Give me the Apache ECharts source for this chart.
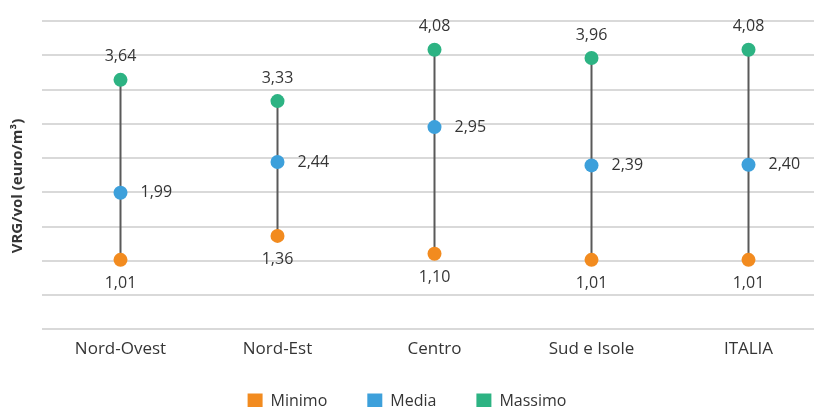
<!DOCTYPE html>
<html>
<head>
<meta charset="utf-8">
<script src="https://cdn.jsdelivr.net/npm/echarts@6/dist/echarts.min.js"></script>
<style>
  html, body { margin: 0; padding: 0; background: #fff; }
  #chart { width: 814px; height: 407px; }
</style>
</head>
<body>
<div id="chart"></div>
<script>
// VRG/vol per area geografica: minimo, media e massimo (euro/m³)
const categories = ['Nord-Ovest', 'Nord-Est', 'Centro', 'Sud e Isole', 'ITALIA'];
const minimo  = [1.01, 1.36, 1.10, 1.01, 1.01];
const media   = [1.99, 2.44, 2.95, 2.39, 2.40];
const massimo = [3.64, 3.33, 4.08, 3.96, 4.08];

const FONT = '"Open Sans", sans-serif';
const TEXT = '#353535';
const fmt = v => v.toFixed(2).replace('.', ',');

const chart = echarts.init(document.getElementById('chart'), null, { renderer: 'canvas' });

function pointSeries(name, data, color, pos, dist) {
  return {
    name: name,
    type: 'scatter',
    data: data,
    symbol: 'circle',
    symbolSize: 14,
    itemStyle: { color: color, opacity: 1 },
    z: 5,
    label: {
      show: true,
      position: pos,
      distance: dist,
      formatter: p => fmt(p.value),
      color: TEXT,
      fontFamily: FONT,
      fontSize: 16
    }
  };
}

chart.setOption({
  animation: false,
  textStyle: { fontFamily: FONT },
  grid: { left: 42, top: 21, width: 785, height: 308, outerBoundsMode: 'none' },
  xAxis: {
    type: 'category',
    data: categories,
    axisLine: { show: false },
    axisTick: { show: false },
    axisLabel: { color: TEXT, fontFamily: FONT, fontSize: 17, margin: 12 }
  },
  yAxis: {
    type: 'value',
    min: 0,
    max: 4.5,
    interval: 0.5,
    name: 'VRG/vol (euro/m³)',
    nameLocation: 'middle',
    nameGap: 17,
    nameRotate: 90,
    nameTextStyle: {
      color: TEXT, fontFamily: FONT, fontSize: 15, fontWeight: 'bold',
      padding: [0, 22, 0, 0]
    },
    axisLine: { show: false },
    axisTick: { show: false },
    axisLabel: { show: false },
    splitLine: { lineStyle: { color: '#d9d9d9', width: 2 } }
  },
  legend: {
    top: 388,
    left: 'center',
    icon: 'rect',
    itemWidth: 15,
    itemHeight: 15,
    itemGap: 40,
    data: ['Minimo', 'Media', 'Massimo'],
    textStyle: { color: TEXT, fontFamily: FONT, fontSize: 16, padding: [0, 0, 0, 3] }
  },
  series: [
    {
      // segmento verticale dal minimo al massimo
      type: 'custom',
      silent: true,
      z: 1,
      data: categories.map((c, i) => [i, minimo[i], massimo[i]]),
      renderItem: function (params, api) {
        const a = api.coord([api.value(0), api.value(1)]);
        const b = api.coord([api.value(0), api.value(2)]);
        return {
          type: 'line',
          shape: { x1: a[0], y1: a[1], x2: b[0], y2: b[1] },
          style: { stroke: '#595959', lineWidth: 2 }
        };
      }
    },
    pointSeries('Minimo', minimo, '#F28B1F', 'bottom', 9),
    pointSeries('Media', media, '#3DA0DB', 'right', 13),
    pointSeries('Massimo', massimo, '#2DB383', 'top', 8)
  ]
});
</script>
</body>
</html>
